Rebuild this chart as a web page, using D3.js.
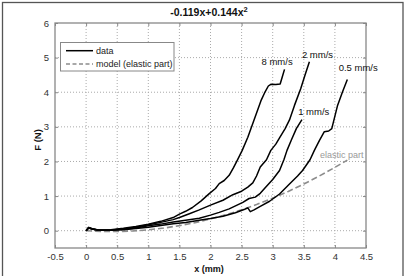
<!DOCTYPE html>
<html><head><meta charset="utf-8">
<script src="https://cdn.jsdelivr.net/npm/d3@7"></script>
<style>html,body{margin:0;padding:0;background:#fff;}svg{display:block;font-family:"Liberation Sans",Arial,sans-serif;}</style>
</head><body><svg id="c" width="406" height="276"></svg>
<script>
const titleText = "-0.119x+0.144x";
const xTicks = [-0.5,0,0.5,1,1.5,2,2.5,3,3.5,4,4.5];
const xTickLabels = ["-0.5","0","0.5","1","1.5","2","2.5","3","3.5","4","4.5"];
const yTicks = [0,1,2,3,4,5,6];
const yTickLabels = ["0","1","2","3","4","5","6"];
const seriesNames = ["8 mm/s","2 mm/s","1 mm/s","0.5 mm/s"];
const s8 = [[0,0],[0.04,0.09],[0.1,0.06],[0.2,0.02],[0.4,0.03],[0.6,0.07],[0.8,0.12],[1.0,0.19],[1.2,0.27],[1.4,0.38],[1.5,0.48],[1.6,0.56],[1.71,0.67],[1.85,0.86],[1.98,1.07],[2.08,1.22],[2.14,1.36],[2.22,1.45],[2.3,1.6],[2.37,1.82],[2.43,2.03],[2.51,2.32],[2.6,2.7],[2.7,3.2],[2.81,3.75],[2.88,4.02],[2.93,4.18],[2.97,4.23],[3.05,4.22],[3.12,4.24],[3.15,4.42],[3.19,4.66]];
const s2 = [[0,0],[0.04,0.09],[0.1,0.05],[0.2,0.01],[0.4,0.02],[0.6,0.05],[0.8,0.1],[1.0,0.17],[1.2,0.24],[1.4,0.32],[1.5,0.38],[1.65,0.48],[1.82,0.6],[2.0,0.74],[2.2,0.88],[2.36,1.04],[2.5,1.14],[2.6,1.26],[2.68,1.38],[2.74,1.58],[2.8,1.84],[2.9,2.05],[2.97,2.32],[3.05,2.5],[3.11,2.68],[3.2,2.95],[3.27,3.2],[3.35,3.62],[3.45,4.1],[3.52,4.5],[3.59,4.88]];
const s1 = [[0,0],[0.04,0.08],[0.1,0.05],[0.2,0.01],[0.4,0.02],[0.6,0.04],[0.8,0.08],[1.0,0.14],[1.2,0.19],[1.4,0.25],[1.6,0.3],[1.82,0.36],[2.0,0.45],[2.14,0.53],[2.3,0.63],[2.52,0.82],[2.62,0.93],[2.72,0.97],[2.8,1.08],[2.89,1.26],[3.0,1.48],[3.11,1.74],[3.18,2.05],[3.23,2.32],[3.3,2.62],[3.38,2.95],[3.47,3.21]];
const s05 = [[0,0],[0.04,0.08],[0.1,0.05],[0.2,0.01],[0.4,0.01],[0.6,0.03],[0.8,0.06],[1.0,0.1],[1.2,0.15],[1.4,0.2],[1.6,0.24],[1.82,0.3],[2.0,0.35],[2.2,0.42],[2.4,0.52],[2.55,0.62],[2.6,0.66],[2.64,0.55],[2.7,0.6],[2.8,0.7],[2.95,0.85],[3.11,1.06],[3.27,1.35],[3.4,1.58],[3.48,1.74],[3.6,2.05],[3.67,2.32],[3.75,2.6],[3.83,2.86],[3.9,2.88],[3.95,2.95],[4.04,3.6],[4.12,4.0],[4.2,4.37]];
const modelPts = [[0,0],[0.25,-0.021],[0.5,-0.024],[0.75,-0.008],[1,0.025],[1.25,0.076],[1.5,0.146],[1.75,0.233],[2,0.338],[2.25,0.461],[2.5,0.603],[2.75,0.762],[3,0.939],[3.25,1.134],[3.5,1.348],[3.75,1.579],[4,1.828],[4.2,2.04]];
const labelPos = [[2.82,4.78],[3.47,4.98],[3.41,3.34],[4.06,4.6]];
const elasticLabel = "elastic part";
const legendLabels = ["data","model (elastic part)"];

const svg = d3.select("#c");
const L=55,R=366,T=23,B=248;
const x = d3.scaleLinear().domain([-0.5,4.5]).range([L,R]);
const y = d3.scaleLinear().domain([-0.5,6]).range([B,T]);

// outer frame
svg.append("rect").attr("x",2.5).attr("y",2.5).attr("width",400.5).attr("height",290)
  .attr("fill","none").attr("stroke","#555").attr("stroke-width",1.3);

// grid
const g = svg.append("g");
g.selectAll(".gx").data(xTicks.slice(1,-1)).join("line")
  .attr("x1",d=>x(d)).attr("x2",d=>x(d)).attr("y1",T).attr("y2",B)
  .attr("stroke","#aaa").attr("stroke-width",1).attr("stroke-dasharray","1,2");
g.selectAll(".gy").data(yTicks.slice(0,-1)).join("line")
  .attr("y1",d=>y(d)).attr("y2",d=>y(d)).attr("x1",L).attr("x2",R)
  .attr("stroke","#aaa").attr("stroke-width",1).attr("stroke-dasharray","1,2");

// axes with inward ticks
const xAxB = d3.axisBottom(x).tickValues(xTicks).tickFormat((d,i)=>xTickLabels[i]).tickSizeInner(-3).tickSizeOuter(0).tickPadding(5);
const xAxT = d3.axisTop(x).tickValues(xTicks).tickFormat("").tickSizeInner(-3).tickSizeOuter(0);
const yAxL = d3.axisLeft(y).tickValues(yTicks).tickFormat((d,i)=>yTickLabels[i]).tickSizeInner(-3).tickSizeOuter(0).tickPadding(6);
const yAxR = d3.axisRight(y).tickValues(yTicks).tickFormat("").tickSizeInner(-3).tickSizeOuter(0);
function style(sel){
  sel.select(".domain").remove();
  sel.selectAll(".tick line").attr("stroke","#888");
  sel.selectAll("text").attr("font-size","9.5px").attr("fill","#333").attr("font-family","'Liberation Sans',Arial,sans-serif");
}
svg.append("g").attr("transform",`translate(0,${B})`).call(xAxB).call(style);
svg.append("g").attr("transform",`translate(0,${T})`).call(xAxT).call(style);
svg.append("g").attr("transform",`translate(${L},0)`).call(yAxL).call(style);
svg.append("g").attr("transform",`translate(${R},0)`).call(yAxR).call(style);

// clip
svg.append("clipPath").attr("id","clip").append("rect").attr("x",L).attr("y",T).attr("width",R-L).attr("height",B-T);

const line = d3.line().x(d=>x(d[0])).y(d=>y(d[1]));
const plot = svg.append("g").attr("clip-path","url(#clip)");
plot.append("path").datum(modelPts).attr("d",line).attr("fill","none")
  .attr("stroke","#8c8c8c").attr("stroke-width",1.6).attr("stroke-dasharray","6,3");
[s8,s2,s1,s05].forEach(s=>{
  plot.append("path").datum(s).attr("d",line).attr("fill","none")
    .attr("stroke","#000").attr("stroke-width",1.5).attr("stroke-linejoin","round");
});

// frame
svg.append("rect").attr("x",L).attr("y",T).attr("width",R-L).attr("height",B-T)
  .attr("fill","none").attr("stroke","#888").attr("stroke-width",1.3);

// series labels
seriesNames.forEach((n,i)=>{
  svg.append("text").attr("x",x(labelPos[i][0])).attr("y",y(labelPos[i][1]))
    .attr("font-size","9.5px").attr("fill","#111").text(n);
});
svg.append("text").attr("x",x(3.76)).attr("y",y(2.09)).attr("font-size","9px")
  .attr("fill","#999").text(elasticLabel);

// legend
const lg = svg.append("g");
lg.append("rect").attr("x",60.5).attr("y",42.5).attr("width",113.5).attr("height",28.5)
  .attr("fill","#fff").attr("stroke","#888").attr("stroke-width",1);
lg.append("line").attr("x1",66).attr("x2",93).attr("y1",50.7).attr("y2",50.7).attr("stroke","#000").attr("stroke-width",1.5);
lg.append("line").attr("x1",66).attr("x2",93).attr("y1",64).attr("y2",64).attr("stroke","#8c8c8c").attr("stroke-width",1.6).attr("stroke-dasharray","4,2.5");
lg.append("text").attr("x",96).attr("y",54).attr("font-size","9px").attr("fill","#222").text(legendLabels[0]);
lg.append("text").attr("x",96).attr("y",67.3).attr("font-size","9px").attr("fill","#222").text(legendLabels[1]);

// title
const tt = svg.append("text").attr("x",209).attr("y",16).attr("text-anchor","middle")
  .attr("font-size","10.5px").attr("font-weight","bold").attr("fill","#111");
tt.append("tspan").text(titleText);
tt.append("tspan").attr("dy",-4).attr("font-size","7.5px").text("2");

// axis labels
svg.append("text").attr("x",209).attr("y",272).attr("text-anchor","middle")
  .attr("font-size","9px").attr("font-weight","bold").attr("fill","#111").text("x (mm)");
svg.append("text").attr("transform","translate(41,140) rotate(-90)").attr("text-anchor","middle")
  .attr("font-size","9.5px").attr("font-weight","bold").attr("fill","#111").text("F (N)");
</script></body></html>
